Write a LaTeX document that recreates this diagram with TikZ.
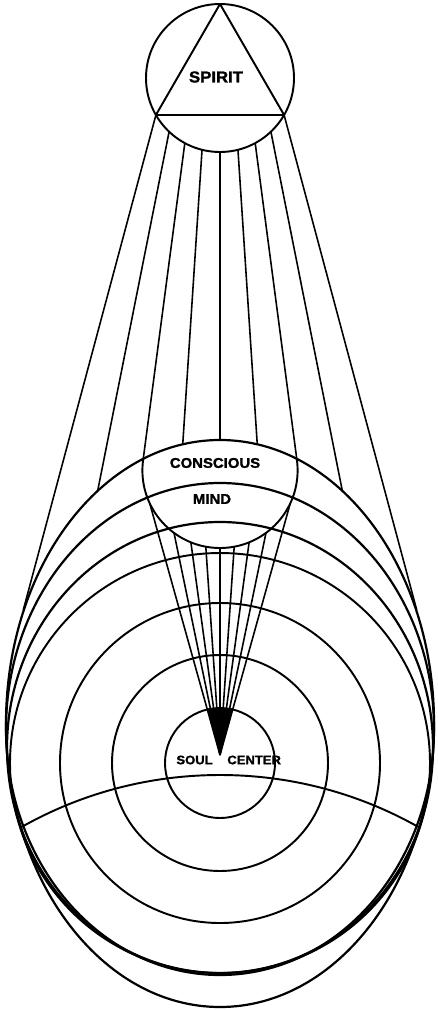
\documentclass[tikz,border=0pt]{standalone}
\usepackage{fontspec}
\usepackage{tikz}
\newfontfamily\labelfont[BoldFeatures={FakeBold=1.5, FakeStretch=1.06}]{Liberation Sans}
\usetikzlibrary{calc, positioning}

\begin{document}
\begin{tikzpicture}[x=0.02cm, y=-0.02cm, line join=round,
    ring/.style={draw=black, line width=1.1pt},
    egg/.style={draw=black, line width=1.25pt},
    ray/.style={draw=black, line width=0.9pt},
    lbl/.style={font=\labelfont\bfseries\fontsize{8}{8}\selectfont, inner sep=0pt}]
\useasboundingbox (0,0) rectangle (437,1010);
\fill[white] (0,0) rectangle (437,1010);

\coordinate (spirit) at (220,78);
\coordinate (source) at (220,-124.2);
\coordinate (mind) at (220,470.4);
\coordinate (soul) at (220,763);
\coordinate (tip) at (220,755);

% spirit circle and triangle
\draw[ring] (spirit) circle (74);
\draw[ring] ($(spirit)+(-90:74)$) -- ($(spirit)+(30:74)$) -- ($(spirit)+(150:74)$) -- cycle;
\node[lbl, font=\labelfont\bfseries\fontsize{9}{9}\selectfont] (spirit-lbl) at (216,77) {SPIRIT};

% rays down from spirit
\foreach \a/\ts/\te in {-15/247.6/760, -11.25/260.9/627.2, -7.5/269.6/588.1, -3.75/274.6/569.8,
    0/276.2/564.2, 3.75/274.6/569.8, 7.5/269.6/588.1, 11.25/260.9/627.2, 15/247.6/760}
{
    \draw[ray] ($(source)+({90-(\a)}:\ts)$) -- ($(source)+({90-(\a)}:\te)$);
}

% egg outlines and rings round the soul
\draw[egg] (220,723.5) ellipse [x radius=214, y radius=283.5];
\draw[egg] (220,729) ellipse [x radius=214, y radius=246];
\draw[egg] (220,747.5) ellipse [x radius=213, y radius=225.5];
\foreach \r in {210, 160, 108, 55}
    \draw[ring] (soul) circle (\r);

\begin{scope}
    \clip (220,723.5) ellipse [x radius=214, y radius=283.5];
    \draw[ring] (220,1179) circle (404);
    \draw[ring] (mind) circle (77.6);
\end{scope}

% rays from conscious mind to the soul centre
\foreach \a/\t in {-15.6/261.2, -11.7/226.8, -7.8/214.7, -3.9/208.8, 0/207,
    3.9/208.8, 7.8/214.7, 11.7/226.8, 15.6/261.2}
{
    \draw[ray] ($(tip)+({-90+(\a)}:\t)$) -- (tip);
}
\begin{scope}
    \clip (soul) circle (55);
    \fill ($(tip)+(-105.6:80)$) -- (tip) -- ($(tip)+(-74.4:80)$) -- cycle;
\end{scope}

\node[lbl] (conscious-lbl) at (215,463) {CONSCIOUS};
\node[lbl] (mind-lbl) at (212,499) {MIND};
\node[lbl, font=\labelfont\bfseries\fontsize{7}{7}\selectfont, anchor=east] (soul-lbl) at (213,760) {SOUL};
\node[lbl, font=\labelfont\bfseries\fontsize{7}{7}\selectfont, anchor=west] (center-lbl) at (227,760) {CENTER};
\end{tikzpicture}
\end{document}
